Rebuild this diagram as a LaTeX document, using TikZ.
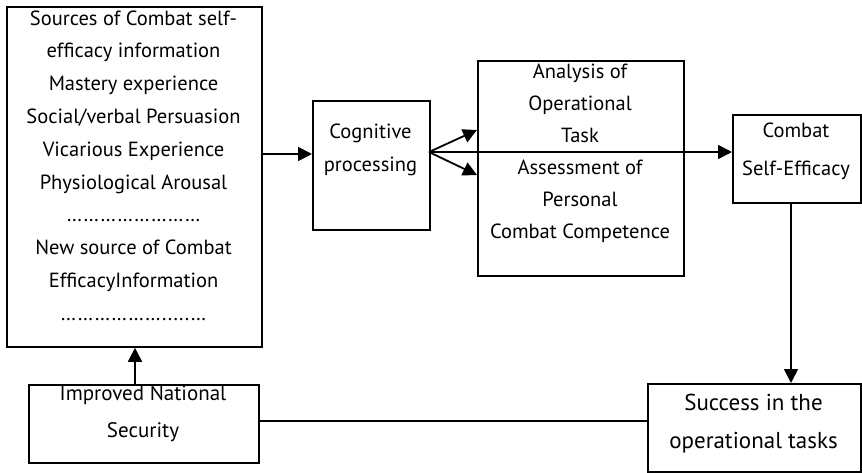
\documentclass[tikz,border=0pt]{standalone}
\usepackage{fontspec}
\setmainfont{PT Sans}
\usetikzlibrary{arrows.meta}
\begin{document}
\begin{tikzpicture}[x=1pt,y=-1pt,
  box/.style={draw,line width=1.8pt,minimum width=#1,inner sep=0pt,anchor=north west},
  txt/.style={font=\fontsize{20.5}{32.8}\selectfont,align=center,inner sep=0pt,anchor=center},
  conn/.style={line width=1.8pt},
  arr/.style={conn,-{Triangle[length=14pt,width=14pt]}}]
\useasboundingbox (0,0) rectangle (862,472);
% boxes
\node[box=255pt,minimum height=340pt] (src) at (6,6) {};
\node[box=117pt,minimum height=129pt] (cog) at (312,100) {};
\node[box=206pt,minimum height=215pt] (mid) at (477,60) {};
\node[box=128pt,minimum height=88pt] (comb) at (732,114) {};
\node[box=213pt,minimum height=88pt] (succ) at (647,383) {};
\node[box=230pt,minimum height=78pt] (ins) at (28,384) {};
% texts
\node[txt] (srct) at (133.5,165.5) {Sources of Combat self-\\efficacy information\\Mastery experience\\Social/verbal Persuasion\\Vicarious Experience\\Physiological Arousal\\……………………\\New source of Combat\\EfficacyInformation\\……………….....…};
\node[txt,font=\fontsize{20.5}{33}\selectfont] (cogt) at (370.5,150) {Cognitive\\processing};
\node[txt,font=\fontsize{20.5}{32}\selectfont] (midt) at (580,153.5) {Analysis of\\Operational\\Task\\Assessment of\\Personal\\Combat Competence};
\node[txt,font=\fontsize{20.5}{38}\selectfont] (combt) at (796,151) {Combat\\Self-Efficacy};
\node[txt,font=\fontsize{23}{38}\selectfont] (succt) at (753.5,424) {Success in the\\operational tasks};
\node[txt,font=\fontsize{21}{37}\selectfont] (inst) at (143,413.5) {Improved National\\Security};
% connectors
\coordinate (hub) at (429,152);
\coordinate (a1) at (477,130);
\coordinate (a2) at (477,175);
\draw[arr] (src.east |- 0,154) -- (cog.west |- 0,154);
\draw[arr] (hub) -- (a1);
\draw[arr] (hub) -- (a2);
\draw[arr] (hub) -- (hub -| comb.west);
\draw[arr] (comb.south -| 791,0) -- (succ.north -| 791,0);
\draw[arr] (ins.north -| 135,0) -- (src.south -| 135,0);
\draw[conn] (ins.east |- 0,421) -- (succ.west |- 0,421);
\end{tikzpicture}
\end{document}
